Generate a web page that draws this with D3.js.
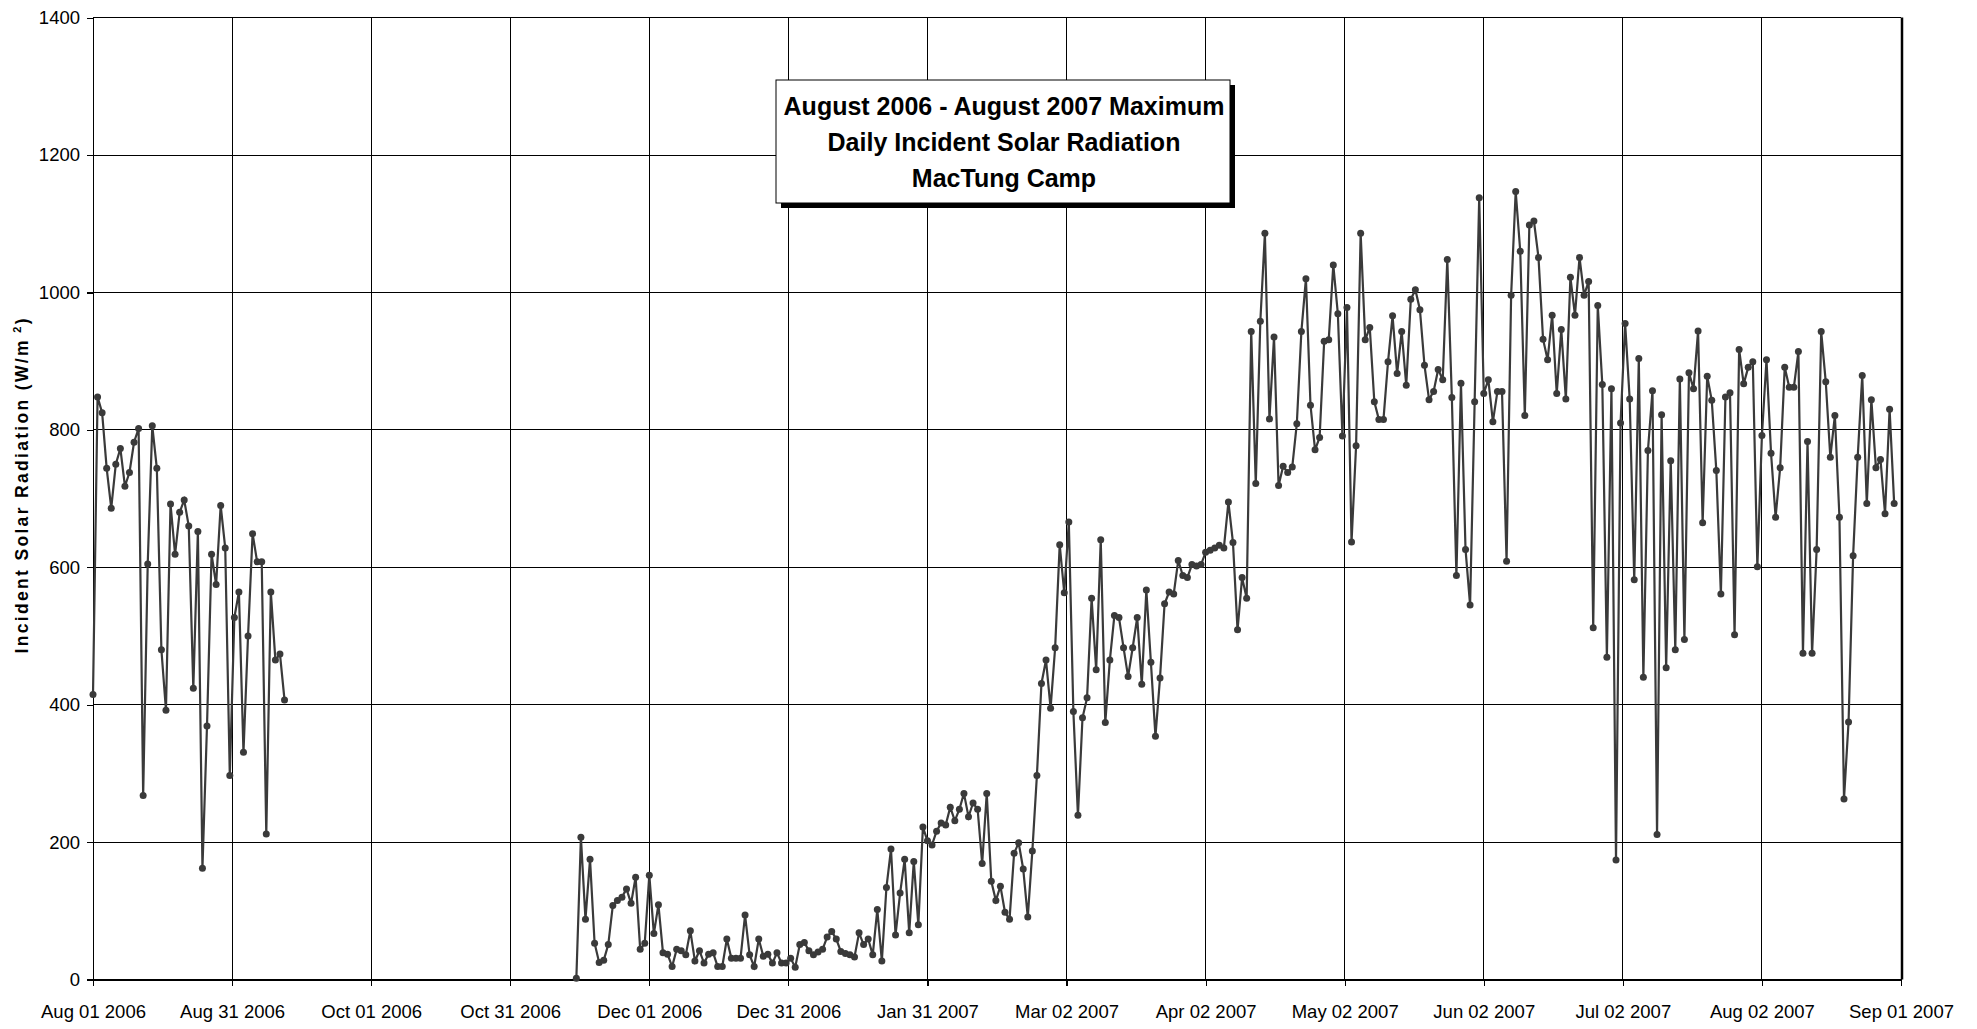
<!DOCTYPE html>
<html>
<head>
<meta charset="utf-8">
<script src="https://cdn.jsdelivr.net/npm/d3@7/dist/d3.min.js"></script>
<style>
  body { margin: 0; background: #fff; }
  svg { display: block; font-family: "Liberation Sans", Arial, sans-serif; }
  .grid line { stroke: #000; stroke-width: 1; shape-rendering: crispEdges; }
  .axis path, .axis line { stroke: #000; stroke-width: 1.2; shape-rendering: crispEdges; }
  .axis text { font-size: 18.5px; fill: #000; }
  .series { fill: none; stroke: #3a3a3a; stroke-width: 2.2; }
  .dot { fill: #3a3a3a; }
  .title text { font-size: 25px; font-weight: bold; fill: #000; }
</style>
</head>
<body>
<div id="chart"></div>
<script>
var titleLines = ['August 2006 - August 2007 Maximum', 'Daily Incident Solar Radiation', 'MacTung Camp'];
var yTitle = 'Incident Solar Radiation (W/m';
var yTicks = [0, 200, 400, 600, 800, 1000, 1200, 1400];
// the original axis puts a major tick every 30.5 days
var xTicks = ['2006-08-01T00:00', '2006-08-31T12:00', '2006-10-01T00:00', '2006-10-31T12:00',
  '2006-12-01T00:00', '2006-12-31T12:00', '2007-01-31T00:00', '2007-03-02T12:00',
  '2007-04-02T00:00', '2007-05-02T12:00', '2007-06-02T00:00', '2007-07-02T12:00',
  '2007-08-02T00:00', '2007-09-01T12:00'];

// daily maxima, one value per day from the start date
var summerStart = '2006-08-01';
var summerValues = [415, 848, 825, 744, 686, 750, 773, 718, 738, 782,
  802, 268, 605, 806, 744, 480, 392, 692, 619, 680,
  698, 660, 424, 652, 162, 369, 619, 575, 690, 628,
  297, 527, 564, 331, 500, 649, 608, 608, 212, 564,
  465, 474, 407];

var winterStart = '2006-11-15';
var winterValues = [2, 207, 88, 175, 53, 25, 28, 51, 108, 115,
  120, 132, 111, 149, 44, 53, 152, 67, 109, 39,
  37, 19, 44, 42, 36, 71, 27, 42, 24, 37,
  39, 19, 19, 59, 31, 31, 31, 94, 36, 19,
  59, 34, 37, 24, 39, 24, 24, 31, 18, 51,
  54, 42, 36, 40, 44, 62, 70, 59, 41, 38,
  36, 33, 68, 51, 59, 36, 102, 27, 134, 190,
  65, 126, 175, 68, 172, 80, 222, 202, 196, 216,
  228, 225, 251, 231, 248, 271, 237, 257, 248, 169,
  271, 143, 115, 136, 98, 88, 184, 199, 161, 91,
  187, 297, 431, 465, 395, 483, 633, 563, 666, 390,
  239, 381, 410, 555, 451, 640, 374, 465, 530, 527,
  483, 441, 483, 527, 430, 567, 462, 354, 439, 547,
  564, 561, 610, 588, 585, 604, 602, 604, 622, 625,
  628, 632, 628, 695, 636, 509, 585, 555, 943, 722,
  958, 1086, 816, 935, 719, 747, 738, 746, 809, 943,
  1020, 836, 771, 789, 929, 931, 1040, 969, 791, 978,
  637, 777, 1086, 931, 949, 841, 815, 815, 899, 966,
  882, 943, 865, 990, 1004, 975, 894, 844, 856, 888,
  873, 1048, 847, 588, 868, 626, 545, 841, 1138, 853,
  873, 812, 856, 856, 609, 996, 1147, 1060, 821, 1098,
  1104, 1051, 932, 902, 967, 853, 946, 845, 1022, 967,
  1051, 996, 1016, 512, 981, 866, 469, 860, 174, 810,
  955, 845, 582, 904, 440, 770, 857, 211, 822, 454,
  755, 480, 874, 495, 883, 860, 944, 665, 878, 843,
  741, 561, 848, 854, 502, 917, 867, 891, 899, 601,
  792, 902, 766, 673, 745, 891, 862, 862, 914, 475,
  783, 475, 626, 943, 870, 760, 821, 673, 263, 375,
  617, 760, 879, 693, 844, 745, 757, 678, 830, 693];

var width = 1977, height = 1029;
var margin = { top: 17.6, right: 76, bottom: 49, left: 93 };

var parseDay = d3.utcParse('%Y-%m-%d');
var parseTick = d3.utcParse('%Y-%m-%dT%H:%M');
var fmt = d3.utcFormat('%b %d %Y');

function toPoints(start, values) {
  var t0 = parseDay(start);
  return values.map(function(v, i) {
    return { date: d3.utcDay.offset(t0, i), value: v };
  });
}

var segments = [toPoints(summerStart, summerValues), toPoints(winterStart, winterValues)];
var tickDates = xTicks.map(parseTick);

var x = d3.scaleUtc()
    .domain([tickDates[0], tickDates[tickDates.length - 1]])
    .range([margin.left, width - margin.right]);

var y = d3.scaleLinear()
    .domain([0, 1400])
    .range([height - margin.bottom - 0.4, margin.top]);

var svg = d3.select('#chart').append('svg')
    .attr('width', width)
    .attr('height', height);

svg.append('rect')
    .attr('width', width)
    .attr('height', height)
    .attr('fill', '#fff');

// grid
var grid = svg.append('g').attr('class', 'grid');
grid.selectAll('.hg')
    .data(yTicks.slice(1))
  .enter().append('line')
    .attr('x1', x.range()[0]).attr('x2', x.range()[1])
    .attr('y1', function(d) { return y(d); })
    .attr('y2', function(d) { return y(d); });
grid.selectAll('.vg')
    .data(tickDates.slice(1))
  .enter().append('line')
    .attr('x1', function(d) { return x(d); })
    .attr('x2', function(d) { return x(d); })
    .attr('y1', y(0)).attr('y2', y(1400));

// right border of plot area
svg.append('line')
    .attr('x1', x.range()[1] + 1).attr('x2', x.range()[1] + 1)
    .attr('y1', y(0)).attr('y2', y(1400))
    .attr('stroke', '#000').attr('stroke-width', 2.5);

// axes
svg.append('g')
    .attr('class', 'axis')
    .attr('transform', 'translate(' + margin.left + ',0)')
    .call(d3.axisLeft(y).tickValues(yTicks).tickFormat(d3.format('d'))
      .tickSize(6).tickSizeOuter(0).tickPadding(7));

svg.append('g')
    .attr('class', 'axis')
    .attr('transform', 'translate(0,' + y(0) + ')')
    .call(d3.axisBottom(x).tickValues(tickDates).tickFormat(fmt)
      .tickSize(6).tickSizeOuter(0).tickPadding(19));

// y axis title
var yt = svg.append('text')
    .attr('transform', 'translate(28,486) rotate(-90)')
    .attr('text-anchor', 'middle')
    .attr('textLength', 335)
    .attr('lengthAdjust', 'spacing')
    .style('font-size', '17.5px')
    .style('font-weight', 'bold')
    .text(yTitle);
yt.append('tspan')
    .attr('dy', -7)
    .style('font-size', '11px')
    .text(' 2');
yt.append('tspan')
    .attr('dy', 7)
    .text(')');

// series
var line = d3.line()
    .x(function(d) { return x(d.date); })
    .y(function(d) { return y(d.value); });

var plot = svg.append('g');
segments.forEach(function(seg) {
  plot.append('path')
      .attr('class', 'series')
      .attr('d', line(seg));
  plot.selectAll(null)
      .data(seg)
    .enter().append('circle')
      .attr('class', 'dot')
      .attr('r', 3.5)
      .attr('cx', function(d) { return x(d.date); })
      .attr('cy', function(d) { return y(d.value); });
});

// title box
var title = svg.append('g').attr('class', 'title');
title.append('rect')
    .attr('x', 781).attr('y', 85)
    .attr('width', 454).attr('height', 123)
    .attr('fill', '#000');
title.append('rect')
    .attr('x', 776).attr('y', 80)
    .attr('width', 454).attr('height', 123)
    .attr('fill', '#fff')
    .attr('stroke', '#000')
    .attr('stroke-width', 1);
title.selectAll('text')
    .data(titleLines)
  .enter().append('text')
    .attr('x', 1004)
    .attr('y', function(d, i) { return 115 + i * 36; })
    .attr('text-anchor', 'middle')
    .text(function(d) { return d; });
</script>
</body>
</html>
